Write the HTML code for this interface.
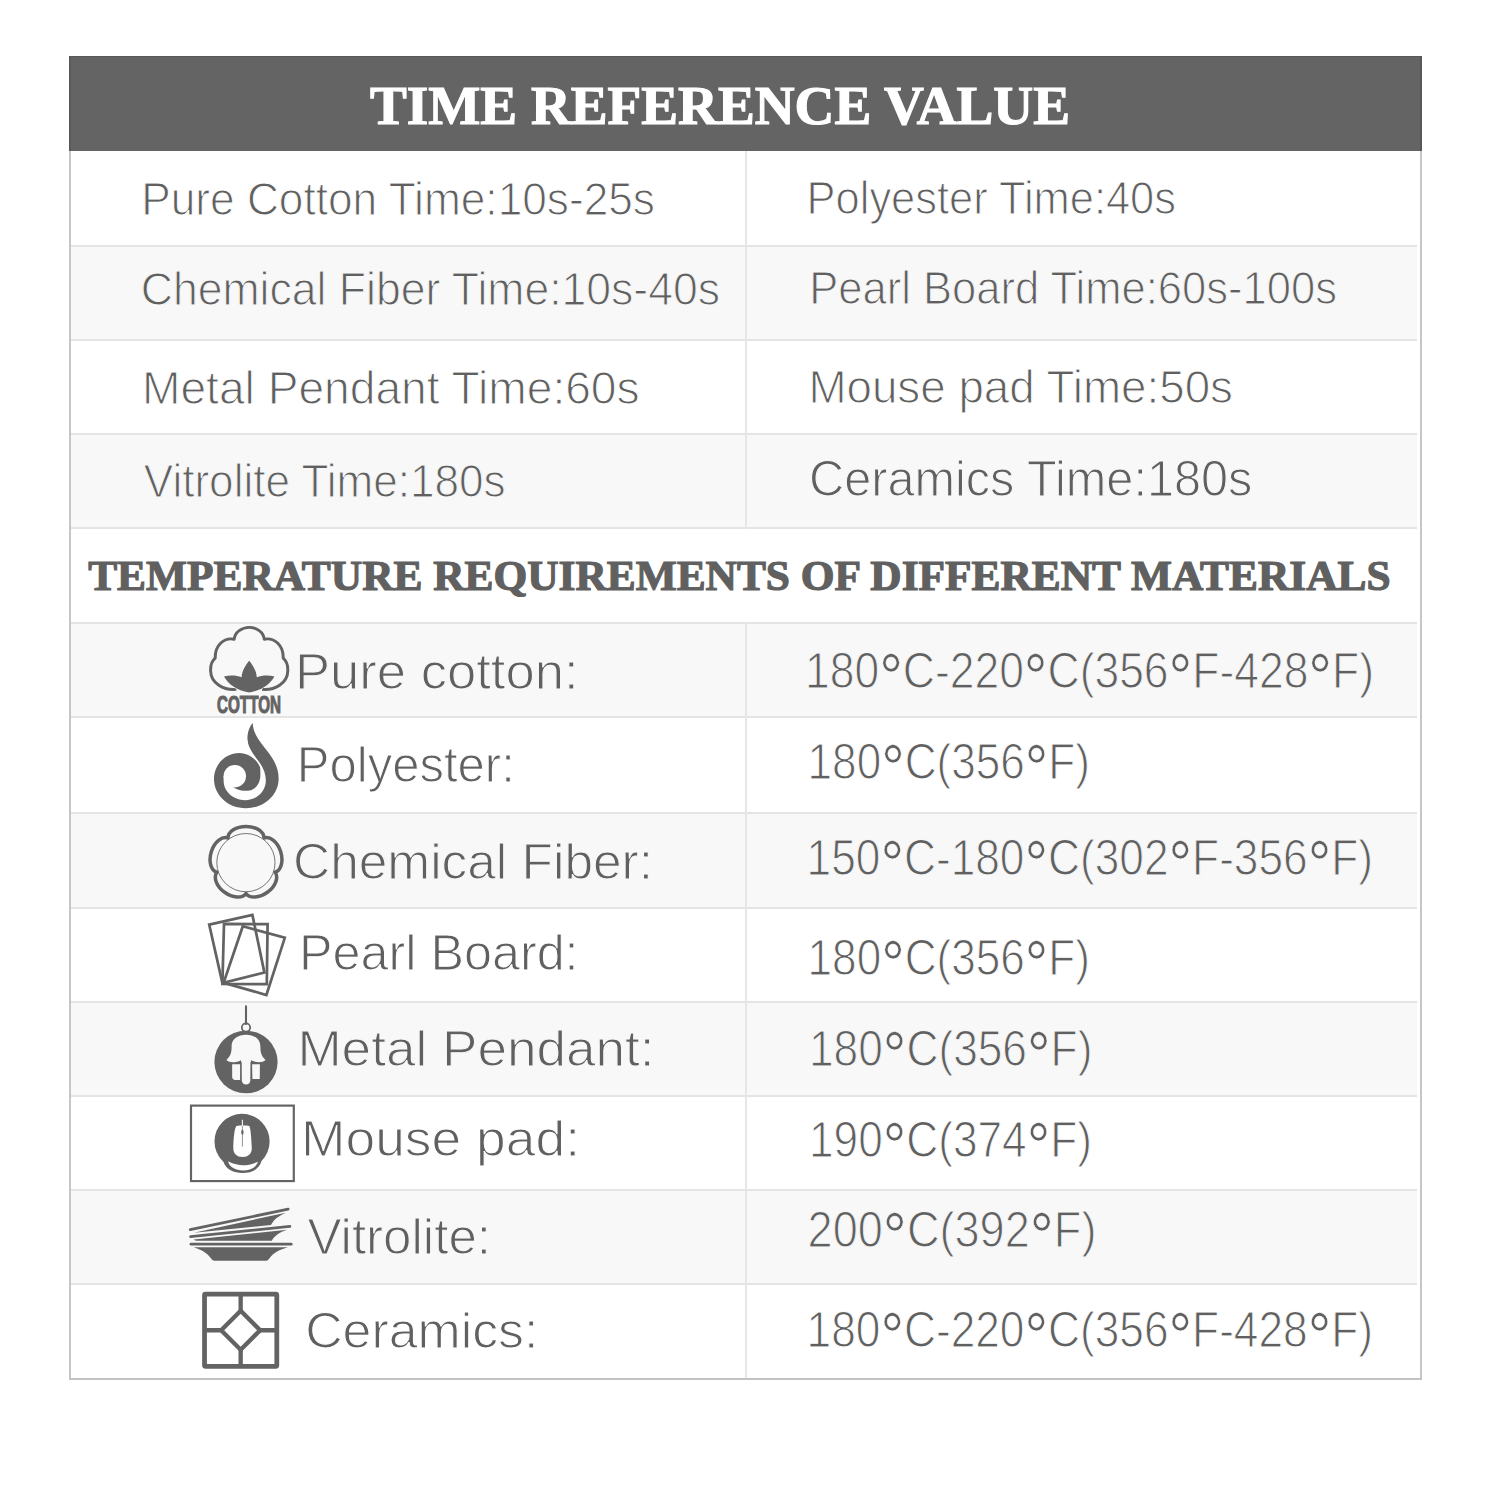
<!DOCTYPE html>
<html lang="en">
<head>
<meta charset="utf-8">
<title>Time Reference Value</title>
<style>
html,body{margin:0;padding:0;background:#fff;}
body{width:1500px;height:1500px;position:relative;overflow:hidden;font-family:"Liberation Sans",Arial,sans-serif;}
.tbl{position:absolute;left:69px;top:56px;width:1353px;height:1324px;}
.hd{position:absolute;left:0;top:0;width:1353px;height:95px;background:#646464;box-shadow:inset 0 1px 0 #575757,inset 2px 0 0 #5a5a5a,inset -2px 0 0 #585858;}
.row{position:absolute;left:2px;width:1346px;}
.g{background:#f8f8f8;}
.w{background:#ffffff;}
.hl{position:absolute;left:2px;width:1346px;height:2px;background:#e4e4e4;}
.vl{position:absolute;left:676px;width:2px;background:#e6e6e6;}
.bl{position:absolute;left:0;top:95px;width:2px;height:1229px;background:#c6c6c6;}
.br{position:absolute;right:0;top:95px;width:2px;height:1229px;background:#c6c6c6;}
.bb{position:absolute;left:0;bottom:0;width:1353px;height:2px;background:#c2c2c2;}
svg.ov{position:absolute;left:0;top:0;}

.s{font-family:"Liberation Serif","Times New Roman",serif;font-weight:bold;}
</style>
</head>
<body>
<div class="tbl">
  <div class="hd"></div>
  <div class="row w" style="top:95px;height:95px"></div>
  <div class="row g" style="top:190px;height:94px"></div>
  <div class="row w" style="top:284px;height:94px"></div>
  <div class="row g" style="top:378px;height:95px"></div>
  <div class="row w" style="top:473px;height:94px"></div>
  <div class="row g" style="top:567px;height:94px"></div>
  <div class="row w" style="top:661px;height:96px"></div>
  <div class="row g" style="top:757px;height:95px"></div>
  <div class="row w" style="top:852px;height:94px"></div>
  <div class="row g" style="top:946px;height:94px"></div>
  <div class="row w" style="top:1040px;height:94px"></div>
  <div class="row g" style="top:1134px;height:94px"></div>
  <div class="row w" style="top:1228px;height:96px"></div>
  <div class="hl" style="top:189px"></div>
  <div class="hl" style="top:283px"></div>
  <div class="hl" style="top:377px"></div>
  <div class="hl" style="top:471px"></div>
  <div class="hl" style="top:566px"></div>
  <div class="hl" style="top:660px"></div>
  <div class="hl" style="top:756px"></div>
  <div class="hl" style="top:851px"></div>
  <div class="hl" style="top:945px"></div>
  <div class="hl" style="top:1039px"></div>
  <div class="hl" style="top:1133px"></div>
  <div class="hl" style="top:1227px"></div>
  <div class="vl" style="top:95px;height:378px"></div>
  <div class="vl" style="top:567px;height:757px"></div>
  <div class="bl"></div>
  <div class="br"></div>
  <div class="bb"></div>
</div>
<svg class="ov" width="1500" height="1500" viewBox="0 0 1500 1500">
  <text x="370.0" y="124.2" font-family='"Liberation Serif", "Times New Roman", serif' font-weight="bold" font-size="55.3" fill="#ffffff" stroke="#ffffff" stroke-width="1.2" textLength="700.0" lengthAdjust="spacingAndGlyphs">TIME REFERENCE VALUE</text>
  <text x="141.2" y="214.9" font-family='"Liberation Sans", Arial, sans-serif' font-size="46.9" fill="#606060" stroke="#ffffff" stroke-width="1.1" textLength="513.8" lengthAdjust="spacingAndGlyphs">Pure Cotton Time:10s-25s</text>
  <text x="806.6" y="214.3" font-family='"Liberation Sans", Arial, sans-serif' font-size="46.9" fill="#606060" stroke="#ffffff" stroke-width="1.1" textLength="369.4" lengthAdjust="spacingAndGlyphs">Polyester Time:40s</text>
  <text x="140.8" y="304.9" font-family='"Liberation Sans", Arial, sans-serif' font-size="46.9" fill="#606060" stroke="#f8f8f8" stroke-width="1.1" textLength="579.2" lengthAdjust="spacingAndGlyphs">Chemical Fiber Time:10s-40s</text>
  <text x="809.2" y="304.4" font-family='"Liberation Sans", Arial, sans-serif' font-size="46.9" fill="#606060" stroke="#f8f8f8" stroke-width="1.1" textLength="527.8" lengthAdjust="spacingAndGlyphs">Pearl Board Time:60s-100s</text>
  <text x="142.0" y="404.3" font-family='"Liberation Sans", Arial, sans-serif' font-size="46.9" fill="#606060" stroke="#ffffff" stroke-width="1.1" textLength="497.6" lengthAdjust="spacingAndGlyphs">Metal Pendant Time:60s</text>
  <text x="808.4" y="403.3" font-family='"Liberation Sans", Arial, sans-serif' font-size="46.9" fill="#606060" stroke="#ffffff" stroke-width="1.1" textLength="424.6" lengthAdjust="spacingAndGlyphs">Mouse pad Time:50s</text>
  <text x="143.8" y="497.1" font-family='"Liberation Sans", Arial, sans-serif' font-size="46.9" fill="#606060" stroke="#f8f8f8" stroke-width="1.1" textLength="361.8" lengthAdjust="spacingAndGlyphs">Vitrolite Time:180s</text>
  <text x="809.0" y="496.2" font-family='"Liberation Sans", Arial, sans-serif' font-size="49.5" fill="#606060" stroke="#f8f8f8" stroke-width="1.1" textLength="443.4" lengthAdjust="spacingAndGlyphs">Ceramics Time:180s</text>
  <text x="88.2" y="589.7" font-family='"Liberation Serif", "Times New Roman", serif' font-weight="bold" font-size="42.5" fill="#606060" stroke="#606060" stroke-width="1.2" textLength="1302.4" lengthAdjust="spacingAndGlyphs">TEMPERATURE REQUIREMENTS OF DIFFERENT MATERIALS</text>
  <text x="295.0" y="689.3" font-family='"Liberation Sans", Arial, sans-serif' font-size="49.5" fill="#606060" stroke="#f8f8f8" stroke-width="1.1" textLength="283.6" lengthAdjust="spacingAndGlyphs">Pure cotton:</text>
  <text x="805.0" y="688.3" font-family='"Liberation Sans", Arial, sans-serif' font-size="49.5" fill="#606060" stroke="#f8f8f8" stroke-width="1.1" textLength="569.0" lengthAdjust="spacingAndGlyphs">180<tspan font-size="66" dy="12" stroke-width="0.5">°</tspan><tspan dy="-12">C</tspan>-220<tspan font-size="66" dy="12" stroke-width="0.5">°</tspan><tspan dy="-12">C</tspan>(356<tspan font-size="66" dy="12" stroke-width="0.5">°</tspan><tspan dy="-12">F</tspan>-428<tspan font-size="66" dy="12" stroke-width="0.5">°</tspan><tspan dy="-12">F</tspan>)</text>
  <text x="296.8" y="782.1" font-family='"Liberation Sans", Arial, sans-serif' font-size="49.5" fill="#606060" stroke="#ffffff" stroke-width="1.1" textLength="218.0" lengthAdjust="spacingAndGlyphs">Polyester:</text>
  <text x="807.6" y="779.1" font-family='"Liberation Sans", Arial, sans-serif' font-size="49.5" fill="#606060" stroke="#ffffff" stroke-width="1.1" textLength="282.4" lengthAdjust="spacingAndGlyphs">180<tspan font-size="66" dy="12" stroke-width="0.5">°</tspan><tspan dy="-12">C</tspan>(356<tspan font-size="66" dy="12" stroke-width="0.5">°</tspan><tspan dy="-12">F</tspan>)</text>
  <text x="293.0" y="878.5" font-family='"Liberation Sans", Arial, sans-serif' font-size="49.5" fill="#606060" stroke="#f8f8f8" stroke-width="1.1" textLength="360.0" lengthAdjust="spacingAndGlyphs">Chemical Fiber:</text>
  <text x="806.6" y="874.9" font-family='"Liberation Sans", Arial, sans-serif' font-size="49.5" fill="#606060" stroke="#f8f8f8" stroke-width="1.1" textLength="566.4" lengthAdjust="spacingAndGlyphs">150<tspan font-size="66" dy="12" stroke-width="0.5">°</tspan><tspan dy="-12">C</tspan>-180<tspan font-size="66" dy="12" stroke-width="0.5">°</tspan><tspan dy="-12">C</tspan>(302<tspan font-size="66" dy="12" stroke-width="0.5">°</tspan><tspan dy="-12">F</tspan>-356<tspan font-size="66" dy="12" stroke-width="0.5">°</tspan><tspan dy="-12">F</tspan>)</text>
  <text x="299.0" y="970.4" font-family='"Liberation Sans", Arial, sans-serif' font-size="49.5" fill="#606060" stroke="#ffffff" stroke-width="1.1" textLength="279.6" lengthAdjust="spacingAndGlyphs">Pearl Board:</text>
  <text x="807.6" y="975.3" font-family='"Liberation Sans", Arial, sans-serif' font-size="49.5" fill="#606060" stroke="#ffffff" stroke-width="1.1" textLength="282.4" lengthAdjust="spacingAndGlyphs">180<tspan font-size="66" dy="12" stroke-width="0.5">°</tspan><tspan dy="-12">C</tspan>(356<tspan font-size="66" dy="12" stroke-width="0.5">°</tspan><tspan dy="-12">F</tspan>)</text>
  <text x="297.4" y="1066.3" font-family='"Liberation Sans", Arial, sans-serif' font-size="49.5" fill="#606060" stroke="#f8f8f8" stroke-width="1.1" textLength="357.2" lengthAdjust="spacingAndGlyphs">Metal Pendant:</text>
  <text x="809.0" y="1066.3" font-family='"Liberation Sans", Arial, sans-serif' font-size="49.5" fill="#606060" stroke="#f8f8f8" stroke-width="1.1" textLength="283.4" lengthAdjust="spacingAndGlyphs">180<tspan font-size="66" dy="12" stroke-width="0.5">°</tspan><tspan dy="-12">C</tspan>(356<tspan font-size="66" dy="12" stroke-width="0.5">°</tspan><tspan dy="-12">F</tspan>)</text>
  <text x="301.0" y="1156.1" font-family='"Liberation Sans", Arial, sans-serif' font-size="49.5" fill="#606060" stroke="#ffffff" stroke-width="1.1" textLength="279.0" lengthAdjust="spacingAndGlyphs">Mouse pad:</text>
  <text x="809.0" y="1157.1" font-family='"Liberation Sans", Arial, sans-serif' font-size="49.5" fill="#606060" stroke="#ffffff" stroke-width="1.1" textLength="283.0" lengthAdjust="spacingAndGlyphs">190<tspan font-size="66" dy="12" stroke-width="0.5">°</tspan><tspan dy="-12">C</tspan>(374<tspan font-size="66" dy="12" stroke-width="0.5">°</tspan><tspan dy="-12">F</tspan>)</text>
  <text x="307.4" y="1253.6" font-family='"Liberation Sans", Arial, sans-serif' font-size="49.5" fill="#606060" stroke="#f8f8f8" stroke-width="1.1" textLength="183.6" lengthAdjust="spacingAndGlyphs">Vitrolite:</text>
  <text x="807.6" y="1247.3" font-family='"Liberation Sans", Arial, sans-serif' font-size="49.5" fill="#606060" stroke="#f8f8f8" stroke-width="1.1" textLength="288.8" lengthAdjust="spacingAndGlyphs">200<tspan font-size="66" dy="12" stroke-width="0.5">°</tspan><tspan dy="-12">C</tspan>(392<tspan font-size="66" dy="12" stroke-width="0.5">°</tspan><tspan dy="-12">F</tspan>)</text>
  <text x="305.2" y="1347.5" font-family='"Liberation Sans", Arial, sans-serif' font-size="49.5" fill="#606060" stroke="#ffffff" stroke-width="1.1" textLength="233.2" lengthAdjust="spacingAndGlyphs">Ceramics:</text>
  <text x="806.6" y="1347.3" font-family='"Liberation Sans", Arial, sans-serif' font-size="49.5" fill="#606060" stroke="#ffffff" stroke-width="1.1" textLength="566.4" lengthAdjust="spacingAndGlyphs">180<tspan font-size="66" dy="12" stroke-width="0.5">°</tspan><tspan dy="-12">C</tspan>-220<tspan font-size="66" dy="12" stroke-width="0.5">°</tspan><tspan dy="-12">C</tspan>(356<tspan font-size="66" dy="12" stroke-width="0.5">°</tspan><tspan dy="-12">F</tspan>-428<tspan font-size="66" dy="12" stroke-width="0.5">°</tspan><tspan dy="-12">F</tspan>)</text>
  <g transform="translate(190,620) scale(0.08)">
    <path d="M 579 867 C 420 882, 262 790, 258 640 C 255 580, 265 520, 315 478 C 310 320, 420 215, 552 240 C 560 150, 650 92, 740 92 C 830 92, 920 150, 928 240 C 1060 215, 1170 320, 1165 478 C 1215 520, 1225 580, 1222 640 C 1218 790, 1060 882, 901 867" fill="none" stroke="#636363" stroke-width="37" stroke-linejoin="round"/>
    <path d="M 740 510 C 790 570, 830 640, 835 715 C 900 690, 990 690, 1055 705 C 1000 800, 900 880, 740 905 C 580 880, 480 800, 425 705 C 490 690, 580 690, 645 715 C 650 640, 690 570, 740 510 Z" fill="#636363" stroke="#f8f8f8" stroke-width="14" paint-order="stroke"/>
  </g>
  <text x="217" y="713" font-family="Liberation Sans, Arial, sans-serif" font-weight="bold" font-size="24.4" fill="#636363" stroke="#636363" stroke-width="1.1" textLength="64" lengthAdjust="spacingAndGlyphs">COTTON</text>
  <g transform="translate(190,715) scale(0.08)">
    <path d="M 785 100 C 785 200, 840 300, 950 430 C 1060 560, 1110 680, 1108 800 C 1105 1000, 930 1165, 700 1165 C 470 1165, 300 1000, 300 800 C 300 620, 440 475, 620 475 L 720 420 L 718 310 C 715 220, 745 140, 785 100 Z" fill="#636363"/>
    <path d="M 718 310 C 725 400, 790 490, 860 580 C 920 660, 948 740, 948 820 C 948 960, 830 1065, 690 1065 C 540 1065, 420 960, 420 820 L 420 765 L 560 765 L 488 862 C 560 930, 650 955, 740 945 C 830 930, 882 840, 880 740 C 880 700, 878 670, 875 650 A 294 294 0 0 0 625 475 L 590 460 L 700 300 Z" fill="#ffffff"/>
    <circle cx="560" cy="765" r="140" fill="#ffffff"/>
  </g>
  <g transform="translate(190,810) scale(0.08)">
    <path d="M 474.9 350.1 A 225 145 0 0 1 925.1 350.1 A 225 145 72 0 1 1064.3 778.4 A 225 145 144 0 1 700.0 1043.0 A 225 145 216 0 1 335.7 778.4 A 225 145 288 0 1 474.9 350.1 Z" fill="none" stroke="#636363" stroke-width="44" stroke-linejoin="round"/>
    <circle cx="699" cy="658" r="364" fill="none" stroke="#636363" stroke-width="11"/>
  </g>
  <g transform="translate(190,905) scale(0.08)" fill="none" stroke="#636363" stroke-width="34" stroke-linejoin="miter">
    <polygon points="240,245 780,125 930,845 405,975"/>
    <polygon points="425,235 970,240 960,990 405,985"/>
    <polygon points="660,265 1185,410 955,1125 420,972"/>
  </g>
  <g transform="translate(190,998) scale(0.08)">
    <line x1="700" y1="105" x2="700" y2="325" stroke="#636363" stroke-width="26" stroke-linecap="round"/>
    <circle cx="700" cy="370" r="52" fill="none" stroke="#636363" stroke-width="22"/>
    <ellipse cx="700" cy="800" rx="395" ry="392" fill="#636363"/>
    <g fill="#f8f8f8">
      <path d="M 520 610 C 515 510, 600 458, 700 458 C 800 458, 880 510, 880 610 C 878 690, 900 735, 945 775 C 905 812, 830 812, 762 778 L 760 800 L 640 800 L 638 778 C 570 812, 495 812, 455 775 C 500 735, 522 690, 520 610 Z"/>
      <path d="M 527 828 L 626 828 L 626 1025 L 565 1025 C 540 1025, 527 1005, 527 985 Z"/>
      <path d="M 646 780 L 756 780 L 754 1030 C 752 1062, 730 1080, 700 1080 C 670 1080, 650 1062, 648 1030 Z"/>
      <path d="M 776 828 L 874 828 L 872 1012 L 780 1012 Z"/>
    </g>
  </g>
  <g transform="translate(180,1092) scale(0.08666)">
    <rect x="127" y="157" width="1186" height="871" fill="none" stroke="#636363" stroke-width="25"/>
    <circle cx="716" cy="570" r="318" fill="#636363"/>
    <path d="M 500 800 C 530 900, 620 935, 720 935 C 820 935, 910 900, 940 800 Z" fill="#636363"/>
    <path d="M 555 800 C 620 835, 680 845, 725 845 C 780 845, 850 830, 900 805 C 880 870, 810 905, 725 905 C 640 905, 570 870, 555 800 Z" fill="#ffffff"/>
    <path d="M 650 393 C 700 386, 760 386, 800 393 C 815 420, 822 520, 828 640 C 832 710, 790 750, 722 750 C 655 750, 612 710, 615 640 C 618 520, 630 420, 650 393 Z" fill="#ffffff"/>
    <line x1="720" y1="320" x2="720" y2="400" stroke="#ffffff" stroke-width="12"/>
    <line x1="720" y1="393" x2="720" y2="630" stroke="#636363" stroke-width="8"/>
    <ellipse cx="720" cy="465" rx="13" ry="32" fill="#636363"/>
  </g>
  <g transform="translate(180,1190) scale(0.08666)">
    <g stroke="#636363" stroke-width="32" stroke-linecap="round">
      <line x1="118" y1="458" x2="1248" y2="220"/>
      <line x1="122" y1="537" x2="1268" y2="420"/>
      <line x1="127" y1="625" x2="1283" y2="625"/>
    </g>
    <g fill="#636363">
      <path d="M 160 492 L 1220 262 C 1140 300, 1080 340, 1050 405 Z"/>
      <path d="M 160 572 L 1235 460 C 1150 490, 1090 530, 1060 585 L 190 585 C 175 583, 165 578, 160 572 Z"/>
      <path d="M 160 660 L 1245 660 C 1150 690, 1080 720, 1030 790 C 1020 805, 1010 815, 995 815 L 395 815 C 380 815, 370 805, 360 790 C 310 720, 240 690, 160 660 Z"/>
    </g>
  </g>
  <g transform="translate(180,1283) scale(0.08666)" fill="none" stroke="#636363">
    <rect x="283" y="128" width="834" height="834" rx="12" stroke-width="55"/>
    <polygon points="700,320 925,545 700,770 475,545" stroke-width="50"/>
    <path d="M 700 128 L 700 320 M 700 770 L 700 962 M 283 545 L 475 545 M 925 545 L 1117 545" stroke-width="50"/>
  </g>
</svg>
</body>
</html>
